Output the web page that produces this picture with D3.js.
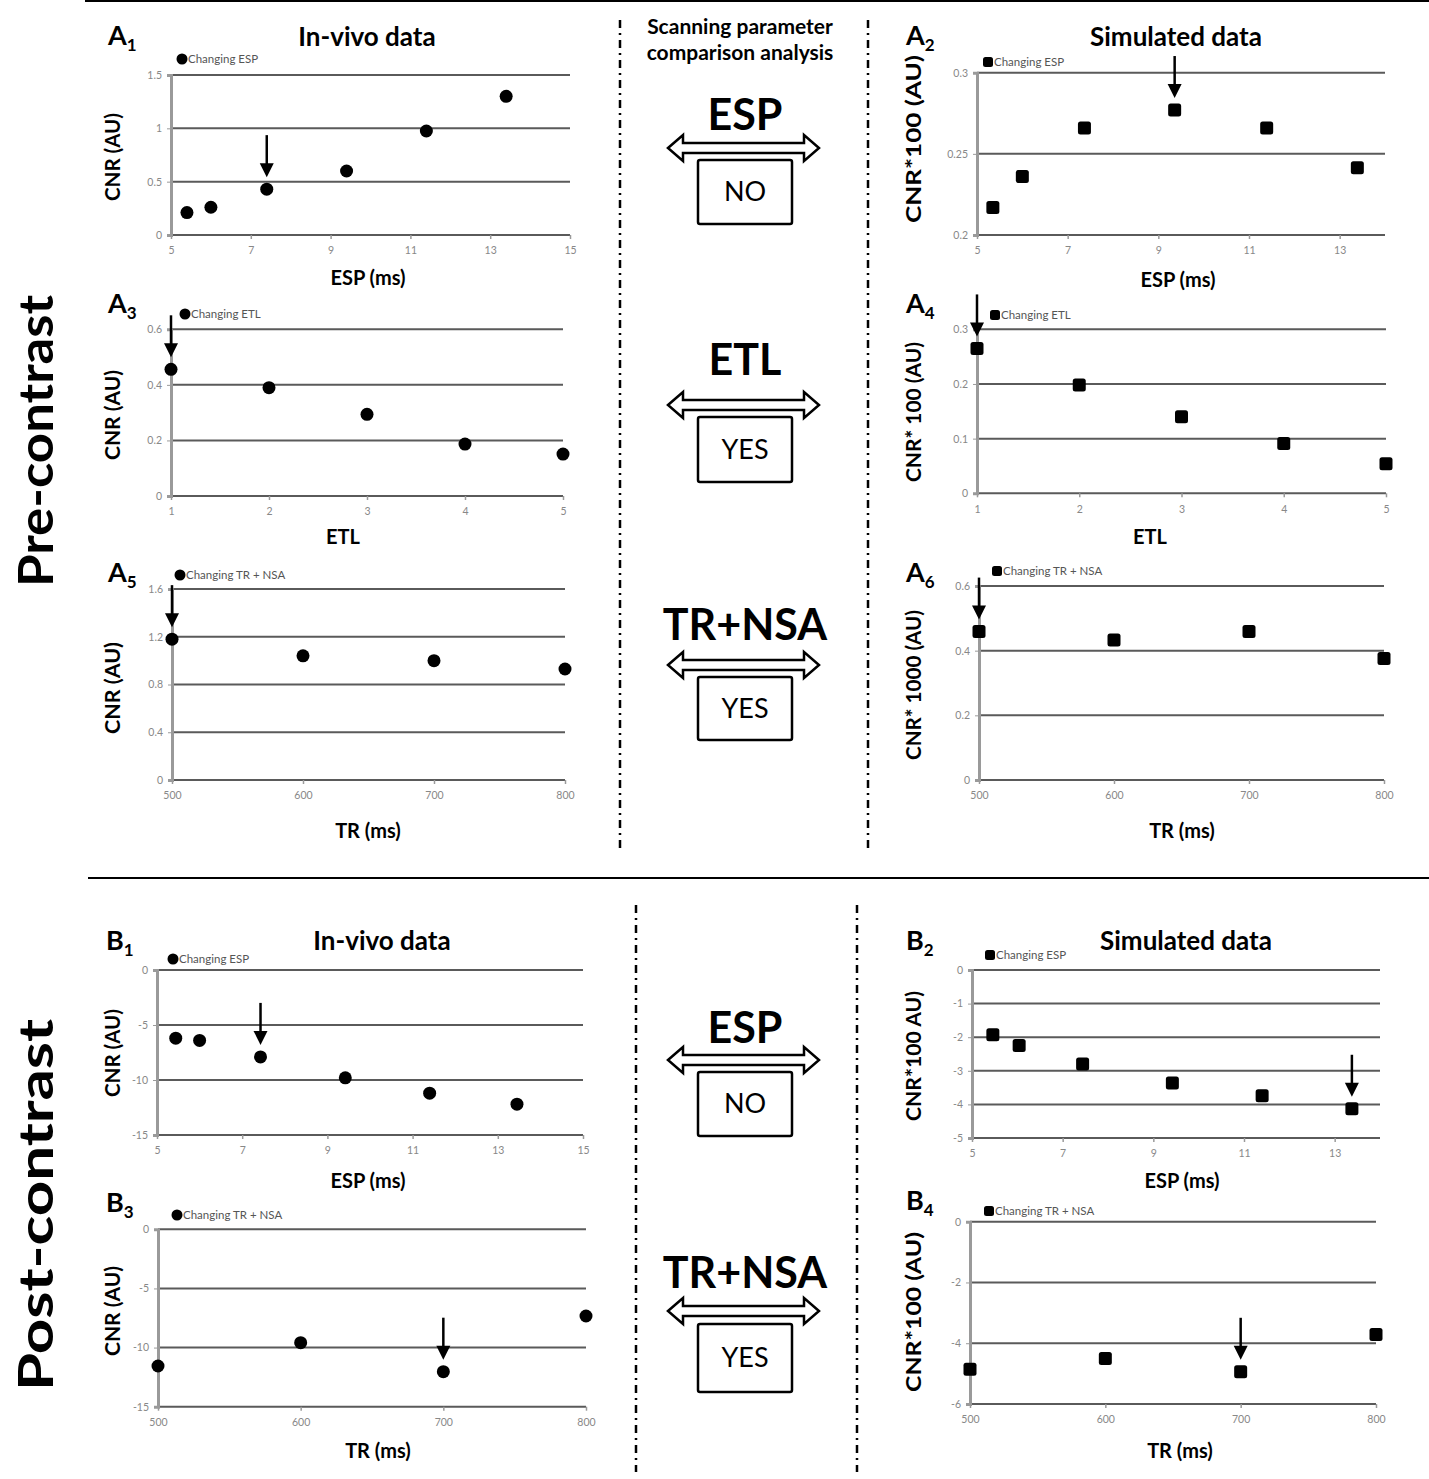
<!DOCTYPE html>
<html>
<head>
<meta charset="utf-8">
<script src="https://cdn.jsdelivr.net/npm/d3@7"></script>
<style>
body{margin:0;background:#fff;}
svg{display:block;font-family:Lato,"Open Sans",sans-serif;}
</style>
</head>
<body>
<svg id="fig" width="1429" height="1479"></svg>
<script>
// values
const espVivo = [5.4, 6, 7.4, 9.4, 11.4, 13.4];
const a1Cnr = [0.21, 0.26, 0.43, 0.60, 0.975, 1.30];
const espSim = [5.35, 6.0, 7.37, 9.36, 11.39, 13.39];
const a2Cnr = [0.217, 0.236, 0.266, 0.277, 0.266, 0.2415];
const etl = [1, 2, 3, 4, 5];
const a3Cnr = [0.456, 0.39, 0.294, 0.187, 0.151];
const a4Cnr = [0.265, 0.198, 0.14, 0.091, 0.054];
const tr = [500, 600, 700, 800];
const a5Cnr = [1.18, 1.04, 1.0, 0.93];
const a6Cnr = [0.459, 0.433, 0.459, 0.376];
const b1Esp = [5.44, 6.0, 7.43, 9.42, 11.4, 13.45];
const b1Cnr = [-6.2, -6.4, -7.9, -9.8, -11.2, -12.2];
const b2Esp = [5.46, 6.04, 7.44, 9.42, 11.4, 13.38];
const b2Cnr = [-1.93, -2.25, -2.8, -3.36, -3.74, -4.13];
const b3Cnr = [-11.56, -9.59, -12.04, -7.33];
const b4Cnr = [-4.86, -4.5, -4.94, -3.71];

// tick labels
const espTicks15 = [5, 7, 9, 11, 13, 15];
const espTicks13 = [5, 7, 9, 11, 13];
const etlTicks = [1, 2, 3, 4, 5];
const trTicks = [500, 600, 700, 800];
const a1Ticks = [0, 0.5, 1, 1.5];
const a2Ticks = [0.2, 0.25, 0.3];
const a3Ticks = [0, 0.2, 0.4, 0.6];
const a4Ticks = [0, 0.1, 0.2, 0.3];
const a5Ticks = [0, 0.4, 0.8, 1.2, 1.6];
const a6Ticks = [0, 0.2, 0.4, 0.6];
const b1Ticks = [-15, -10, -5, 0];
const b2Ticks = [-5, -4, -3, -2, -1, 0];
const b3Ticks = [-15, -10, -5, 0];
const b4Ticks = [-6, -4, -2, 0];

const svg = d3.select('#fig');

// panel layout
const panels = [
 {lab:'A',sub:'1',lx:108,ly:45,x0:171,x1:570,yb:235,yt:75,xd:[5,15],xt:espTicks15,yd:[0,1.5],yt2:a1Ticks,
  xs:espVivo,ys:a1Cnr,shape:'c',leg:'Changing ESP',legX:182,legY:59,arrow:2,
  xTitle:'ESP (ms)',xtx:368,xty:285,yTitle:'CNR (AU)',ytx:120,yty:157,yl:88},
 {lab:'A',sub:'2',lx:906,ly:45,x0:977,x1:1385,yb:235,yt:72.7,xd:[5,14],xt:espTicks13,yd:[0.2,0.3],yt2:a2Ticks,
  xs:espSim,ys:a2Cnr,shape:'s',leg:'Changing ESP',legX:988,legY:62,arrow:3,
  xTitle:'ESP (ms)',xtx:1178,xty:287,yTitle:'CNR*100 (AU)',ytx:921,yty:139,yl:168},
 {lab:'A',sub:'3',lx:108,ly:313,x0:171,x1:563,yb:496,yt:329.3,xd:[1,5],xt:etlTicks,yd:[0,0.6],yt2:a3Ticks,
  xs:etl,ys:a3Cnr,shape:'c',leg:'Changing ETL',legX:185,legY:314,arrow:0,
  xTitle:'ETL',xtx:343,xty:544,yTitle:'CNR (AU)',ytx:120,yty:415,yl:90},
 {lab:'A',sub:'4',lx:906,ly:313,x0:977,x1:1386,yb:493.3,yt:329.3,xd:[1,5],xt:etlTicks,yd:[0,0.3],yt2:a4Ticks,
  xs:etl,ys:a4Cnr,shape:'s',leg:'Changing ETL',legX:995,legY:315,arrow:0,
  xTitle:'ETL',xtx:1150,xty:544,yTitle:'CNR* 100 (AU)',ytx:921,yty:412,yl:140},
 {lab:'A',sub:'5',lx:108,ly:582,x0:172,x1:565,yb:780,yt:589,xd:[500,800],xt:trTicks,yd:[0,1.6],yt2:a5Ticks,
  xs:tr,ys:a5Cnr,shape:'c',leg:'Changing TR + NSA',legX:180,legY:575,arrow:0,
  xTitle:'TR (ms)',xtx:368,xty:838,yTitle:'CNR (AU)',ytx:120,yty:688,yl:92},
 {lab:'A',sub:'6',lx:906,ly:582,x0:979,x1:1384,yb:780,yt:586,xd:[500,800],xt:trTicks,yd:[0,0.6],yt2:a6Ticks,
  xs:tr,ys:a6Cnr,shape:'s',leg:'Changing TR + NSA',legX:997,legY:571,arrow:0,
  xTitle:'TR (ms)',xtx:1182,xty:838,yTitle:'CNR* 1000 (AU)',ytx:921,yty:685,yl:150},
 {lab:'B',sub:'1',lx:106,ly:950,x0:157,x1:583,yb:1135,yt:970,xd:[5,15],xt:espTicks15,yd:[-15,0],yt2:b1Ticks,
  xs:b1Esp,ys:b1Cnr,shape:'c',leg:'Changing ESP',legX:173,legY:959,arrow:2,
  xTitle:'ESP (ms)',xtx:368,xty:1188,yTitle:'CNR (AU)',ytx:120,yty:1053,yl:88},
 {lab:'B',sub:'2',lx:906,ly:950,x0:972,x1:1380,yb:1138,yt:970,xd:[5,14],xt:espTicks13,yd:[-5,0],yt2:b2Ticks,
  xs:b2Esp,ys:b2Cnr,shape:'s',leg:'Changing ESP',legX:990,legY:955,arrow:5,
  xTitle:'ESP (ms)',xtx:1182,xty:1188,yTitle:'CNR*100 AU)',ytx:921,yty:1056,yl:130},
 {lab:'B',sub:'3',lx:106,ly:1212,x0:158,x1:586,yb:1406.7,yt:1229.3,xd:[500,800],xt:trTicks,yd:[-15,0],yt2:b3Ticks,
  xs:tr,ys:b3Cnr,shape:'c',leg:'Changing TR + NSA',legX:177,legY:1215,arrow:2,
  xTitle:'TR (ms)',xtx:378,xty:1458,yTitle:'CNR (AU)',ytx:120,yty:1311,yl:90},
 {lab:'B',sub:'4',lx:906,ly:1210,x0:970,x1:1376,yb:1404,yt:1221.7,xd:[500,800],xt:trTicks,yd:[-6,0],yt2:b4Ticks,
  xs:tr,ys:b4Cnr,shape:'s',leg:'Changing TR + NSA',legX:989,legY:1211,arrow:2,
  xTitle:'TR (ms)',xtx:1180,xty:1458,yTitle:'CNR*100 (AU)',ytx:921,yty:1312,yl:160}
];

function marker(g, shape, x, y, s) {
  if (shape === 'c') {
    g.append('circle').attr('cx', x).attr('cy', y).attr('r', s).attr('fill', '#000');
  } else {
    g.append('rect').attr('x', x - s).attr('y', y - s).attr('width', 2 * s).attr('height', 2 * s)
      .attr('rx', 2.5).attr('fill', '#000');
  }
}

panels.forEach(p => {
  const g = svg.append('g');
  const x = d3.scaleLinear().domain(p.xd).range([p.x0, p.x1]);
  const y = d3.scaleLinear().domain(p.yd).range([p.yb, p.yt]);

  // gridlines
  g.selectAll('.grid').data(p.yt2).enter().append('line')
    .attr('x1', p.x0).attr('x2', p.x1)
    .attr('y1', d => y(d)).attr('y2', d => y(d))
    .attr('stroke', '#5a5a5a').attr('stroke-width', 2);

  // y axis
  const ya = g.append('g').attr('transform', `translate(${p.x0},0)`)
    .call(d3.axisLeft(y).tickValues(p.yt2).tickSize(4).tickPadding(5).tickFormat(d => String(d)));
  ya.select('.domain').attr('stroke', '#9a9a9a').attr('stroke-width', 3);
  ya.selectAll('.tick line').attr('stroke', '#9a9a9a');
  ya.selectAll('.tick text').attr('fill', '#888').style('font-size', '10.5px').style('font-family', 'Lato');

  // x axis
  const xa = g.append('g').attr('transform', `translate(0,${p.yb})`)
    .call(d3.axisBottom(x).tickValues(p.xt).tickSize(4).tickPadding(8).tickFormat(d => String(d)));
  xa.select('.domain').remove();
  xa.selectAll('.tick line').attr('stroke', '#9a9a9a').attr('stroke-width', 1.5);
  xa.selectAll('.tick text').attr('fill', '#888').style('font-size', '10.5px').style('font-family', 'Lato');

  // points
  p.xs.forEach((v, i) => marker(g, p.shape, x(v), y(p.ys[i]), 6.5));

  // arrow pointing at the chosen setting
  const ax = x(p.xs[p.arrow]);
  const tip = y(p.ys[p.arrow]) - 12;
  g.append('line').attr('x1', ax).attr('x2', ax).attr('y1', tip - 42).attr('y2', tip - 10)
    .attr('stroke', '#000').attr('stroke-width', 2.5);
  g.append('path').attr('d', `M${ax - 7},${tip - 14} L${ax + 7},${tip - 14} L${ax},${tip} Z`).attr('fill', '#000');

  // legend
  marker(g, p.shape, p.legX, p.legY, p.shape === 'c' ? 5.5 : 5);
  g.append('text').attr('x', p.legX + 6).attr('y', p.legY + 4).text(p.leg)
    .style('font-size', '11.5px').attr('fill', '#555');

  // titles
  g.append('text').attr('x', p.xtx).attr('y', p.xty).attr('text-anchor', 'middle').text(p.xTitle)
    .style('font-size', '20px').style('font-weight', 700);
  g.append('text').attr('transform', `translate(${p.ytx},${p.yty}) rotate(-90)`).attr('text-anchor', 'middle')
    .text(p.yTitle).style('font-size', '20px').style('font-weight', 700)
    .attr('textLength', p.yl).attr('lengthAdjust', 'spacingAndGlyphs');

  const lt = g.append('text').attr('x', p.lx).attr('y', p.ly).style('font-size', '27px').style('font-weight', 700).text(p.lab);
  lt.append('tspan').attr('dy', 6).style('font-size', '17px').text(p.sub);
});

// column titles
const colTitles = [
  {t:'In-vivo data', x:367, y:46},
  {t:'Simulated data', x:1176, y:46},
  {t:'In-vivo data', x:382, y:950},
  {t:'Simulated data', x:1186, y:950}
];
colTitles.forEach(c => svg.append('text').attr('x', c.x).attr('y', c.y).attr('text-anchor', 'middle')
  .text(c.t).style('font-size', '26px').style('font-weight', 700));

svg.append('text').attr('x', 740).attr('y', 34).attr('text-anchor', 'middle').text('Scanning parameter')
  .style('font-size', '21px').style('font-weight', 700);
svg.append('text').attr('x', 740).attr('y', 60).attr('text-anchor', 'middle').text('comparison analysis')
  .style('font-size', '21px').style('font-weight', 700);

// comparison blocks in the middle column
const compareWords = ['ESP', 'ETL', 'TR+NSA', 'ESP', 'TR+NSA'];
const compareAnswers = ['NO', 'YES', 'YES', 'NO', 'YES'];
const compareY = [
  {w:130, a:148, bt:160, bb:224},
  {w:375, a:405, bt:417, bb:482},
  {w:640, a:665, bt:677, bb:740},
  {w:1043, a:1060, bt:1072, bb:1136},
  {w:1288, a:1311, bt:1324, bb:1392}
];
compareWords.forEach((w, i) => {
  const c = compareY[i];
  svg.append('text').attr('x', 745).attr('y', c.w).attr('text-anchor', 'middle').text(w)
    .style('font-size', '43px').style('font-weight', 700);
  const x0 = 668, x1 = 819, hl = 15, hh = 13, sh = 5, yy = c.a;
  const pts = [[x0, yy], [x0 + hl, yy - hh], [x0 + hl, yy - sh], [x1 - hl, yy - sh], [x1 - hl, yy - hh], [x1, yy],
    [x1 - hl, yy + hh], [x1 - hl, yy + sh], [x0 + hl, yy + sh], [x0 + hl, yy + hh]];
  svg.append('path').attr('d', d3.line()(pts) + 'Z').attr('fill', '#fff').attr('stroke', '#000').attr('stroke-width', 2.5);
  svg.append('rect').attr('x', 698).attr('y', c.bt).attr('width', 94).attr('height', c.bb - c.bt)
    .attr('rx', 2).attr('fill', '#fff').attr('stroke', '#000').attr('stroke-width', 2.5);
  svg.append('text').attr('x', 745).attr('y', (c.bt + c.bb) / 2 + 9).attr('text-anchor', 'middle')
    .text(compareAnswers[i]).style('font-size', '27px');
});

// dash-dot separators
const vlines = [[620, 20, 848], [868, 20, 848], [636, 905, 1472], [857, 905, 1472]];
vlines.forEach(v => svg.append('line').attr('x1', v[0]).attr('x2', v[0]).attr('y1', v[1]).attr('y2', v[2])
  .attr('stroke', '#000').attr('stroke-width', 2.5).attr('stroke-dasharray', '8,5,2,5'));

// horizontal rules
svg.append('line').attr('x1', 85).attr('x2', 1429).attr('y1', 1).attr('y2', 1).attr('stroke', '#000').attr('stroke-width', 2);
svg.append('line').attr('x1', 88).attr('x2', 1429).attr('y1', 878).attr('y2', 878).attr('stroke', '#000').attr('stroke-width', 2);

// row labels
svg.append('text').attr('transform', 'translate(53,441) rotate(-90)').attr('text-anchor', 'middle')
  .text('Pre-contrast').style('font-size', '47px').style('font-weight', 700)
  .attr('textLength', 292).attr('lengthAdjust', 'spacingAndGlyphs');
svg.append('text').attr('transform', 'translate(53,1205) rotate(-90)').attr('text-anchor', 'middle')
  .text('Post-contrast').style('font-size', '47px').style('font-weight', 700)
  .attr('textLength', 372).attr('lengthAdjust', 'spacingAndGlyphs');
</script>
</body>
</html>
